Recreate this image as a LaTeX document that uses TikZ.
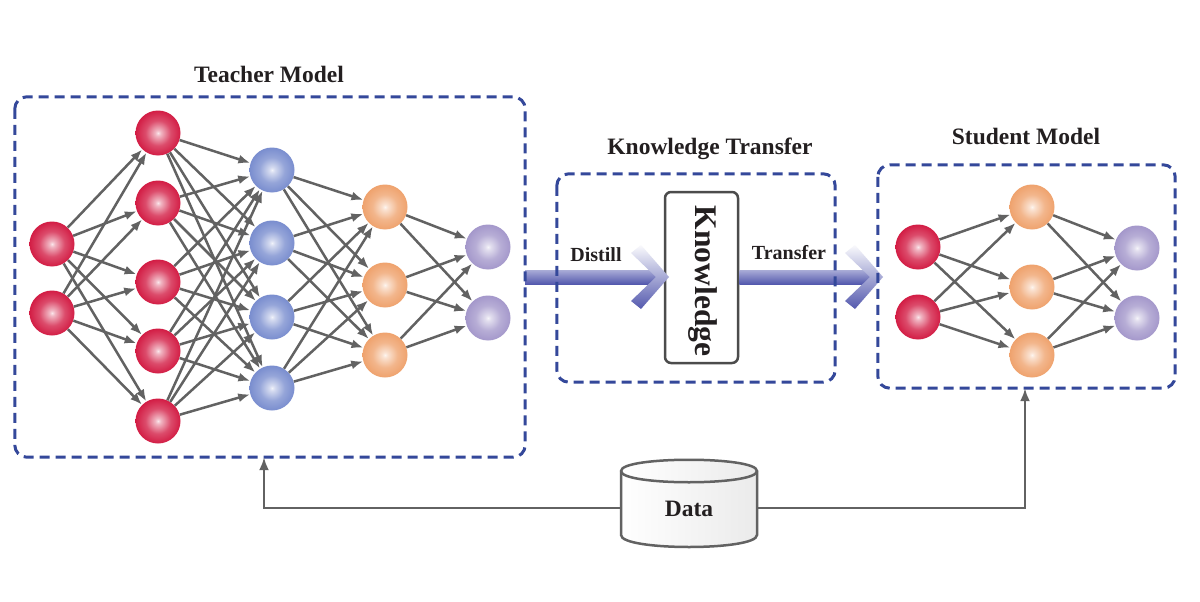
\documentclass[tikz,border=0pt]{standalone}
\usepackage{fontspec}
\setmainfont{Liberation Serif}
\usetikzlibrary{arrows.meta,calc}
\definecolor{cred}{HTML}{D0103A}
\definecolor{cblue}{HTML}{7287CC}
\definecolor{corange}{HTML}{EE9D65}
\definecolor{cpurple}{HTML}{9F92C8}
\definecolor{boxblue}{HTML}{34489A}
\definecolor{lnk}{HTML}{626262}
\definecolor{band}{HTML}{5459AE}
\definecolor{txt}{HTML}{231F20}
\pgfdeclareradialshading{ballred}{\pgfpoint{0bp}{0bp}}{color(0bp)=(cred!10!white); color(3bp)=(cred!30!white); color(14bp)=(cred!75!white); color(28bp)=(cred); color(50bp)=(cred!78!black)}
\pgfdeclareradialshading{ballblue}{\pgfpoint{0bp}{0bp}}{color(0bp)=(cblue!10!white); color(3bp)=(cblue!30!white); color(14bp)=(cblue!75!white); color(28bp)=(cblue); color(50bp)=(cblue!85!black)}
\pgfdeclareradialshading{ballorange}{\pgfpoint{0bp}{0bp}}{color(0bp)=(corange!10!white); color(3bp)=(corange!30!white); color(14bp)=(corange!75!white); color(28bp)=(corange); color(50bp)=(corange!90!black)}
\pgfdeclareradialshading{ballpurple}{\pgfpoint{0bp}{0bp}}{color(0bp)=(cpurple!10!white); color(3bp)=(cpurple!30!white); color(14bp)=(cpurple!75!white); color(28bp)=(cpurple); color(50bp)=(cpurple!88!black)}
\tikzset{
  neuron/.style={circle, minimum size=45pt, inner sep=0pt},
  nred/.style={neuron, shading=ballred},
  nblue/.style={neuron, shading=ballblue},
  norange/.style={neuron, shading=ballorange},
  npurple/.style={neuron, shading=ballpurple},
  link/.style={draw=lnk, line width=2.5pt, -{Latex[length=12pt,width=9pt]}},
  datalink/.style={draw=lnk, line width=2.5pt, -{Latex[length=13pt,width=10pt]}},
  region/.style={draw=boxblue, line width=3pt, dash pattern=on 10pt off 6pt, rounded corners=12pt, inner sep=0pt},
  ttl/.style={font=\fontsize{23.5}{27}\selectfont\bfseries, text=txt, anchor=base},
  lbl/.style={font=\fontsize{20}{24}\selectfont\bfseries, text=txt, anchor=base},
  bandfill/.style={top color=band!50!white, bottom color=band},
  chevfill/.style={top color=band!3!white, middle color=band!65!white, bottom color=band},
}
\newcommand{\mychev}[1]{%
  \shade[chevfill] ($#1+(2,0)$) -- ($#1+(-26,-32)$) -- ($#1+(-36,-24)$) -- ($#1+(-11,0)$) -- ($#1+(-36,24)$) -- ($#1+(-26,32)$) -- cycle;}
\begin{document}
\begin{tikzpicture}[x=1pt,y=-1pt]
\useasboundingbox (0,0) rectangle (1200,602);
\fill[white] (0,0) rectangle (1200,602);

% region nodes (invisible first for anchors)
\node[minimum width=510pt, minimum height=360pt, inner sep=0pt] (teacher) at (270,277) {};
\node[minimum width=278pt, minimum height=208pt, inner sep=0pt] (kt) at (696,278) {};
\node[minimum width=297pt, minimum height=223pt, inner sep=0pt] (student) at (1026.5,276.5) {};
\node[draw=black!70, line width=2.5pt, rounded corners=6pt, minimum width=73pt, minimum height=171pt, inner sep=0pt] (know) at (701.5,277.5) {};
\node[rotate=-90, font=\fontsize{31.5}{36}\selectfont\bfseries, text=txt] at (703,281) {Knowledge};

% big arrows
\coordinate (dtip) at (667,277);
\coordinate (ttip) at (881,277);
\shade[bandfill] (teacher.east |- 0,270) rectangle (658,284);
\mychev{(dtip)}
\shade[bandfill] (know.east |- 0,270) rectangle (872,284);
\mychev{(ttip)}
\node[lbl] at (596,261) {Distill};
\node[lbl] at (789,259) {Transfer};

% dashed regions
\draw[region] (teacher.north west) rectangle (teacher.south east);
\draw[region] (kt.north west) rectangle (kt.south east);
\draw[region] (student.north west) rectangle (student.south east);
\node[ttl] at (269,82) {Teacher Model};
\node[ttl] at (710,154) {Knowledge Transfer};
\node[ttl] at (1026,144) {Student Model};

% teacher network
\foreach \y [count=\i] in {244,313} \node[nred] (ta\i) at (52,\y) {};
\foreach \y [count=\i] in {133,203,282,351,421} \node[nred] (tb\i) at (158,\y) {};
\foreach \y [count=\i] in {170,243,317,388} \node[nblue] (tc\i) at (272,\y) {};
\foreach \y [count=\i] in {207,285,355} \node[norange] (td\i) at (385,\y) {};
\foreach \y [count=\i] in {247,318} \node[npurple] (te\i) at (488,\y) {};
\foreach \i in {1,2} \foreach \j in {1,...,5} \draw[link] (ta\i) -- (tb\j);
\foreach \i in {1,...,5} \foreach \j in {1,...,4} \draw[link] (tb\i) -- (tc\j);
\foreach \i in {1,...,4} \foreach \j in {1,2,3} \draw[link] (tc\i) -- (td\j);
\foreach \i in {1,2,3} \foreach \j in {1,2} \draw[link] (td\i) -- (te\j);

% student network
\foreach \y [count=\i] in {247,317} \node[nred] (sa\i) at (918,\y) {};
\foreach \y [count=\i] in {207,287,355} \node[norange] (sb\i) at (1032,\y) {};
\foreach \y [count=\i] in {248,318} \node[npurple] (sc\i) at (1137,\y) {};
\foreach \i in {1,2} \foreach \j in {1,2,3} \draw[link] (sa\i) -- (sb\j);
\foreach \i in {1,2,3} \foreach \j in {1,2} \draw[link] (sb\i) -- (sc\j);

% data cylinder
\node[minimum width=136pt, minimum height=76pt, inner sep=0pt] (data) at (689,508) {};
\shade[left color=white, right color=black!8, draw=lnk, line width=2.5pt]
  (621,471) -- (621,535) .. controls (621,551) and (757,551) .. (757,535)
  -- (757,471) .. controls (757,456) and (621,456) .. (621,471) -- cycle;
\draw[lnk, line width=2.5pt] (621,471) .. controls (621,486) and (757,486) .. (757,471);
\node[lbl, font=\fontsize{23.5}{27}\selectfont\bfseries] at (689,516) {Data};
\draw[datalink] (data.west) -| ([xshift=-6pt]teacher.south);
\draw[datalink] (data.east) -| ([xshift=-1.5pt]student.south);
\end{tikzpicture}
\end{document}
